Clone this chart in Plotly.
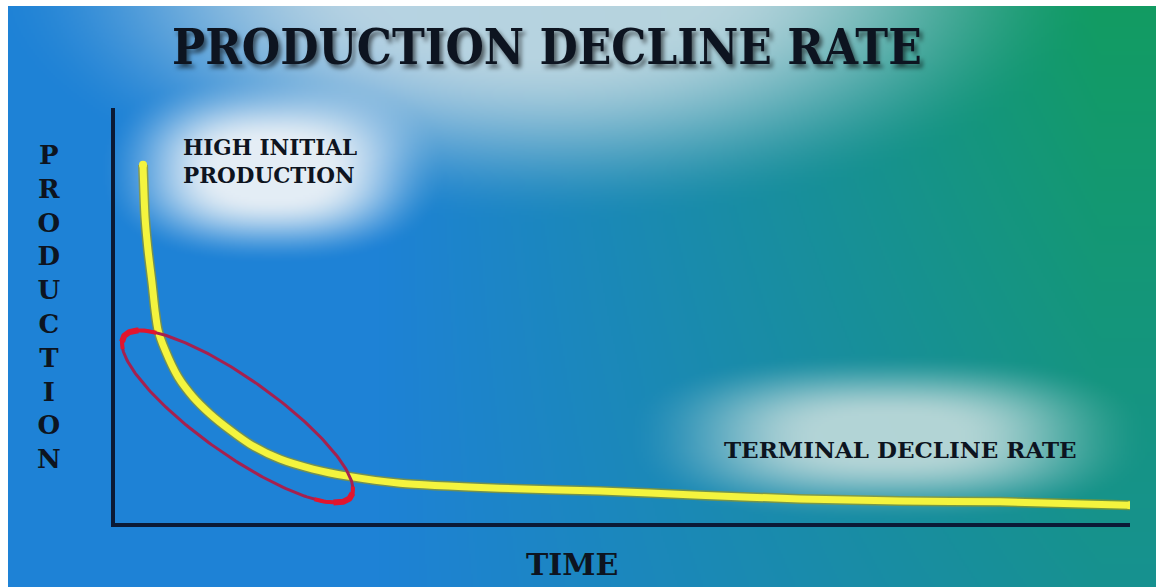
import base64
import struct
import zlib

import numpy as np
import plotly.graph_objects as go

# ---------------------------------------------------------------- data
# Production decline curve (time and production in relative units, 0-100)
time = [2.76, 2.96, 3.25, 3.65, 3.94, 4.24, 4.93, 6.21, 7.68, 9.36, 11.33,
        13.3, 16.26, 19.5, 22.9, 28.1, 37.9, 47.8, 57.6, 67.5, 77.3, 87.2, 100.0]
production = [86.3, 73.7, 65.8, 57.8, 51.3, 46.5, 41.7, 35.2, 30.4, 26.3, 22.4,
              19.0, 15.4, 13.0, 11.3, 9.6, 8.4, 7.7, 6.7, 5.8, 5.3, 5.1, 4.3]

title_text = "PRODUCTION DECLINE RATE"
x_label = "TIME"
y_label = "PRODUCTION"
early_label = "HIGH INITIAL<br>PRODUCTION"
late_label = "TERMINAL DECLINE RATE"

# Highlighted early-decline region (ellipse centre in data units)
highlight_center = (12.07, 25.66)

# ---------------------------------------------------------------- geometry
W, H = 1156, 587
PLOT_LEFT, PLOT_RIGHT, PLOT_TOP, PLOT_BOTTOM = 115, 1130, 108, 523
X_RANGE = (0, 100)
Y_RANGE = (0, 100)
px_per_x = (PLOT_RIGHT - PLOT_LEFT) / (X_RANGE[1] - X_RANGE[0])
px_per_y = (PLOT_BOTTOM - PLOT_TOP) / (Y_RANGE[1] - Y_RANGE[0])


def paper_x(px):
    return px / W


def paper_y(py):
    return 1 - py / H


# ---------------------------------------------------------------- background
def smoothstep(e0, e1, v):
    t = np.clip((v - e0) / (e1 - e0), 0, 1)
    return t * t * (3 - 2 * t)


def glow(X, Y, cx, cy, rx, ry, power, inner, strength):
    r = (np.abs((X - cx) / rx) ** power + np.abs((Y - cy) / ry) ** power) ** (1 / power)
    return strength * (1 - smoothstep(inner, 1.0, r))


BW, BH = W // 2, H // 2
gx = (np.arange(BW) + 0.5) / BW * W
gy = (np.arange(BH) + 0.5) / BH * H
X, Y = np.meshgrid(gx, gy)

blue = np.array([30, 130, 214], float)
green = np.array([18, 156, 98], float)
w = np.clip((X - 380) / 720, 0, 1) * (1 - 0.4 * Y / H)
img = blue * (1 - w[..., None]) + green * w[..., None]

# soft light patches behind the title and the two captions
for (cx, cy, rx, ry, pw, inner, s, col) in [
        (540, -20, 560, 245, 2.0, 0.30, 0.90, (200, 220, 228)),
        (272, 170, 175, 95, 2.5, 0.30, 0.95, (238, 243, 247)),
        (888, 437, 265, 85, 2.6, 0.25, 0.88, (200, 222, 222))]:
    a = glow(X, Y, cx, cy, rx, ry, pw, inner, s)[..., None]
    img = img * (1 - a) + np.array(col, float) * a

img = np.clip(img, 0, 255).astype(np.uint8)


def png_uri(rgb):
    h, w_ = rgb.shape[:2]
    raw = b"".join(b"\x00" + rgb[i].tobytes() for i in range(h))

    def chunk(tag, data):
        body = tag + data
        return struct.pack(">I", len(data)) + body + struct.pack(">I", zlib.crc32(body) & 0xFFFFFFFF)

    png = (b"\x89PNG\r\n\x1a\n"
           + chunk(b"IHDR", struct.pack(">IIBBBBB", w_, h, 8, 2, 0, 0, 0))
           + chunk(b"IDAT", zlib.compress(raw, 9))
           + chunk(b"IEND", b""))
    return "data:image/png;base64," + base64.b64encode(png).decode()


# ---------------------------------------------------------------- highlight ellipse
def ellipse(center, a_px, b_px, angle_deg, phi):
    th = np.radians(angle_deg)
    cxp = PLOT_LEFT + (center[0] - X_RANGE[0]) * px_per_x
    cyp = PLOT_BOTTOM - (center[1] - Y_RANGE[0]) * px_per_y
    xp = cxp + a_px * np.cos(phi) * np.cos(th) - b_px * np.sin(phi) * np.sin(th)
    yp = cyp + a_px * np.cos(phi) * np.sin(th) + b_px * np.sin(phi) * np.cos(th)
    return X_RANGE[0] + (xp - PLOT_LEFT) / px_per_x, Y_RANGE[0] + (PLOT_BOTTOM - yp) / px_per_y


ELL_A, ELL_B, ELL_ANGLE = 139, 38, 35.3

fig = go.Figure()

# yellow decline curve with a darker rim
fig.add_trace(go.Scatter(x=time, y=production, mode="lines",
                         line=dict(color="rgba(150,150,30,0.7)", width=10, shape="spline", smoothing=0.7),
                         hoverinfo="skip"))
fig.add_trace(go.Scatter(x=time, y=production, mode="lines",
                         line=dict(color="#f4f43e", width=7, shape="spline", smoothing=0.7),
                         hoverinfo="skip"))
fig.add_trace(go.Scatter(x=[time[0], time[-1]], y=[production[0], production[-1]], mode="markers",
                         marker=dict(color="#f4f43e", size=8, line=dict(width=0)), hoverinfo="skip"))

# red ellipse around the steep early decline
ex, ey = ellipse(highlight_center, ELL_A, ELL_B, ELL_ANGLE, np.linspace(0, 2 * np.pi, 240))
fig.add_trace(go.Scatter(x=ex, y=ey, mode="lines",
                         line=dict(color="#a5214f", width=3), hoverinfo="skip"))
for lo, hi, wd in [(np.pi - 0.3, np.pi + 0.6, 4), (np.pi - 0.15, np.pi + 0.35, 6),
                   (-0.25, 0.65, 4), (-0.1, 0.4, 6)]:
    ax_, ay_ = ellipse(highlight_center, ELL_A, ELL_B, ELL_ANGLE, np.linspace(lo, hi, 40))
    fig.add_trace(go.Scatter(x=ax_, y=ay_, mode="lines",
                             line=dict(color="#e2152e", width=wd), hoverinfo="skip"))

TEXT = "#0d1420"
SERIF = "DejaVu Serif"
annotations = [
    dict(text=title_text, x=paper_x(547), y=paper_y(47), xanchor="center", yanchor="middle",
         font=dict(family="DejaVu Serif Condensed, DejaVu Serif", size=49, color=TEXT, weight="bold",
                   shadow="3px 4px 4px rgba(0,0,0,0.55)")),
    dict(text=early_label, x=paper_x(181), y=paper_y(161), xanchor="left", yanchor="middle", align="left",
         font=dict(family=SERIF, size=21.5, color=TEXT, weight="bold")),
    dict(text=late_label, x=paper_x(900), y=paper_y(449), xanchor="center", yanchor="middle",
         font=dict(family=SERIF, size=23, color=TEXT, weight="bold")),
    dict(text=x_label, x=paper_x(572), y=paper_y(564), xanchor="center", yanchor="middle",
         font=dict(family=SERIF, size=30, color=TEXT, weight="bold")),
    dict(text="<br>".join(y_label), x=paper_x(49.5), y=paper_y(307), xanchor="center", yanchor="middle",
         font=dict(family=SERIF, size=26, color=TEXT, weight="bold")),
]
for a in annotations:
    a.update(xref="paper", yref="paper", showarrow=False)

axis_common = dict(showline=True, linecolor="#0b1a36", linewidth=4, showgrid=False,
                   zeroline=False, showticklabels=False, ticks="", fixedrange=True)

fig.update_layout(
    width=W, height=H,
    margin=dict(l=0, r=0, t=0, b=0),
    paper_bgcolor="white",
    plot_bgcolor="rgba(0,0,0,0)",
    showlegend=False,
    xaxis=dict(domain=[paper_x(PLOT_LEFT), paper_x(PLOT_RIGHT)], range=list(X_RANGE), **axis_common),
    yaxis=dict(domain=[paper_y(PLOT_BOTTOM), paper_y(PLOT_TOP)], range=list(Y_RANGE), **axis_common),
    images=[dict(source=png_uri(img), xref="paper", yref="paper", x=0, y=1, sizex=1, sizey=1,
                 xanchor="left", yanchor="top", sizing="stretch", layer="below")],
    shapes=[
        dict(type="rect", xref="paper", yref="paper", x0=0, x1=paper_x(8), y0=0, y1=1,
             fillcolor="white", line=dict(width=0), layer="above"),
        dict(type="rect", xref="paper", yref="paper", x0=0, x1=1, y0=paper_y(6), y1=1,
             fillcolor="white", line=dict(width=0), layer="above"),
    ],
    annotations=annotations,
)

fig.write_html("out.html", config=dict(displayModeBar=False))
